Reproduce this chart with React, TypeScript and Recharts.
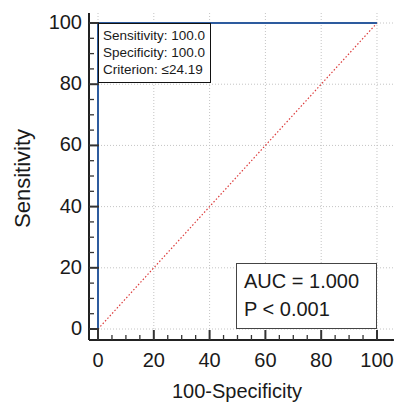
import React from "react"
import { LineChart, Line, XAxis, YAxis, CartesianGrid } from "recharts"

// ROC curve: (100-specificity, sensitivity) points
const rocFpr = [0, 0, 100]
const rocSens = [0, 100, 100]
// chance diagonal
const diagFpr = [0, 100]
const diagSens = [0, 100]

const axisTicks = [0, 5, 10, 15, 20, 25, 30, 35, 40, 45, 50, 55, 60, 65, 70, 75, 80, 85, 90, 95, 100]
const majorTicks = [0, 20, 40, 60, 80, 100]

const infoLines = ["Sensitivity: 100.0", "Specificity: 100.0", "Criterion: \u226424.19"]
const statLines = ["AUC = 1.000", "P < 0.001"]

const FONT = "'Liberation Sans', Arial, sans-serif"
const INK = "#1a1a1a"

const rocData = rocFpr.map((x, i) => ({ x, y: rocSens[i] }))
const diagData = diagFpr.map((x, i) => ({ x, y: diagSens[i] }))

const isMajor = (v: number) => majorTicks.includes(v)

function XTick(props: any) {
  const { x, y, payload } = props
  const major = isMajor(payload.value)
  return (
    <g>
      <line x1={x} x2={x} y1={y} y2={y - (major ? 10 : 5)} stroke="#333" strokeWidth={major ? 2 : 1.3} />
      {major && (
        <text x={x} y={y + 27} textAnchor="middle" fontSize={20} fontFamily={FONT} fill={INK}>
          {payload.value}
        </text>
      )}
    </g>
  )
}

function YTick(props: any) {
  const { x, y, payload } = props
  const major = isMajor(payload.value)
  return (
    <g>
      <line x1={x} x2={x + (major ? 10 : 5)} y1={y} y2={y} stroke="#333" strokeWidth={major ? 2 : 1.3} />
      {major && (
        <text x={x - 7} y={y + 6} textAnchor="end" fontSize={20} fontFamily={FONT} fill={INK}>
          {payload.value}
        </text>
      )}
    </g>
  )
}

function YLabel(props: any) {
  const vb = props.viewBox
  const cx = vb.x + 30
  const cy = vb.y + vb.height / 2 + 2
  return (
    <text
      x={cx}
      y={cy}
      transform={`rotate(-90 ${cx} ${cy})`}
      textAnchor="middle"
      fontSize={22}
      fontFamily={FONT}
      fill={INK}
    >
      Sensitivity
    </text>
  )
}

function XLabel(props: any) {
  const vb = props.viewBox
  return (
    <text
      x={237}
      y={vb.y + 58}
      textAnchor="middle"
      fontSize={20}
      fontFamily={FONT}
      fill={INK}
    >
      100-Specificity
    </text>
  )
}

export default function App() {
  return (
    <div style={{ position: "absolute", left: 0, top: 0, width: 394, height: 403, background: "#fff" }}>
      <LineChart width={394} height={403} margin={{ top: 13, right: 0, left: 0, bottom: 0 }}>
        <CartesianGrid
          stroke="#c4c4c4"
          strokeDasharray="1 2"
          horizontalValues={majorTicks}
          verticalValues={majorTicks}
        />
        <XAxis
          type="number"
          dataKey="x"
          domain={[-3.23, 106.1]}
          allowDataOverflow
          ticks={axisTicks}
          interval={0}
          tick={<XTick />}
          tickLine={false}
          tickSize={0}
          tickMargin={0}
          height={63}
          axisLine={{ stroke: "#222", strokeWidth: 2 }}
          label={<XLabel />}
        />
        <YAxis
          type="number"
          dataKey="y"
          domain={[-3.59, 103.27]}
          allowDataOverflow
          ticks={axisTicks}
          interval={0}
          tick={<YTick />}
          tickLine={false}
          tickSize={0}
          tickMargin={0}
          width={89}
          axisLine={{ stroke: "#222", strokeWidth: 2 }}
          label={<YLabel />}
        />
        <Line
          data={diagData}
          dataKey="y"
          type="linear"
          stroke="#dc3c3c"
          strokeWidth={1.2}
          strokeDasharray="1.5 2"
          dot={false}
          isAnimationActive={false}
        />
        <Line
          data={rocData}
          dataKey="y"
          type="linear"
          stroke="#2d5b9e"
          strokeWidth={2}
          dot={false}
          isAnimationActive={false}
        />
      </LineChart>
      <div
        style={{
          position: "absolute",
          left: 98,
          top: 23,
          width: 113,
          height: 60,
          boxSizing: "border-box",
          border: "1px solid #111",
          background: "#fff",
          padding: "2.5px 0 0 4px",
          fontFamily: FONT,
          fontSize: 13.5,
          lineHeight: "17px",
          color: INK,
          whiteSpace: "nowrap",
        }}
      >
        {infoLines.map((t) => (
          <div key={t}>{t}</div>
        ))}
      </div>
      <div
        style={{
          position: "absolute",
          left: 236,
          top: 263,
          width: 141,
          height: 66,
          boxSizing: "border-box",
          border: "1px solid #444",
          background: "#fff",
          padding: "3px 0 0 7px",
          fontFamily: FONT,
          fontSize: 20,
          lineHeight: "28px",
          color: INK,
          whiteSpace: "nowrap",
        }}
      >
        {statLines.map((t) => (
          <div key={t}>{t}</div>
        ))}
      </div>
    </div>
  )
}
